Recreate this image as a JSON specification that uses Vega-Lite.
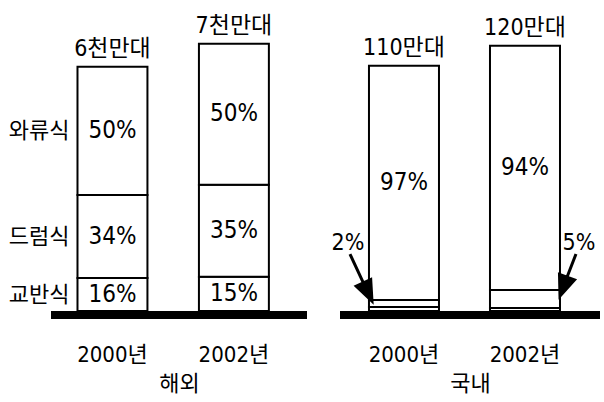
{
  "$schema": "https://vega.github.io/schema/vega-lite/v6.json",
  "padding": {"left": 8, "top": 14, "right": 0, "bottom": 0},
  "bounds": "flush",
  "spacing": 33,
  "background": "white",
  "config": {
    "font": "DejaVu Sans Condensed, Noto Sans CJK KR",
    "view": {"stroke": null},
    "text": {"color": "black"}
  },
  "datasets": {
    "seg": [
      {"region": "해외", "year": "2000년", "type": "교반식", "ord": 1, "pct": "16%", "h": 13.5, "total": "6천만대"},
      {"region": "해외", "year": "2000년", "type": "드럼식", "ord": 2, "pct": "34%", "h": 34.0, "total": "6천만대"},
      {"region": "해외", "year": "2000년", "type": "와류식", "ord": 3, "pct": "50%", "h": 52.5, "total": "6천만대"},
      {"region": "해외", "year": "2002년", "type": "교반식", "ord": 1, "pct": "15%", "h": 14.0, "total": "7천만대"},
      {"region": "해외", "year": "2002년", "type": "드럼식", "ord": 2, "pct": "35%", "h": 37.7, "total": "7천만대"},
      {"region": "해외", "year": "2002년", "type": "와류식", "ord": 3, "pct": "50%", "h": 57.8, "total": "7천만대"},
      {"region": "국내", "year": "2000년", "type": "교반식", "ord": 1, "pct": "1%", "h": 1.6, "total": "110만대"},
      {"region": "국내", "year": "2000년", "type": "드럼식", "ord": 2, "pct": "2%", "h": 2.9, "total": "110만대"},
      {"region": "국내", "year": "2000년", "type": "와류식", "ord": 3, "pct": "97%", "h": 95.9, "total": "110만대"},
      {"region": "국내", "year": "2002년", "type": "교반식", "ord": 1, "pct": "1%", "h": 1.2, "total": "120만대"},
      {"region": "국내", "year": "2002년", "type": "드럼식", "ord": 2, "pct": "5%", "h": 7.4, "total": "120만대"},
      {"region": "국내", "year": "2002년", "type": "와류식", "ord": 3, "pct": "94%", "h": 100.0, "total": "120만대"}
    ]
  },
  "hconcat": [
    {
      "width": 256,
      "height": 293,
      "layer": [
        {
          "data": {"name": "seg"},
          "transform": [{"filter": "datum.region == '해외'"}],
          "mark": {"type": "bar", "fill": "white", "stroke": "black", "strokeWidth": 2},
          "encoding": {
            "x": {"field": "year", "type": "nominal", "sort": ["2000년", "2002년"],
              "scale": {"paddingInner": 0.424, "paddingOuter": 0.266, "align": 0.41},
              "axis": {"title": "해외", "labelAngle": 0, "domain": false, "ticks": false, "labelPadding": 33, "titlePadding": 8, "labelFontSize": 22, "titleFontSize": 22, "titleFontWeight": "normal", "labelColor": "black", "titleColor": "black"}},
            "y": {"field": "h", "type": "quantitative", "stack": "zero", "scale": {"domain": [0, 120], "nice": false}, "axis": null},
            "order": {"field": "ord", "type": "quantitative"}
          }
        },
        {
          "data": {"name": "seg"},
          "transform": [
            {"filter": "datum.region == '해외'"},
            {"stack": "h", "groupby": ["year"], "sort": [{"field": "ord", "order": "ascending"}], "as": ["y0", "y1"]},
            {"fold": ["y0", "y1"], "as": ["edge", "pos"]}
          ],
          "mark": {"type": "text", "fontSize": 24, "baseline": "middle", "fill": "black"},
          "encoding": {
            "x": {"field": "year", "type": "nominal", "sort": ["2000년", "2002년"]},
            "y": {"aggregate": "mean", "field": "pos", "type": "quantitative", "axis": null},
            "text": {"field": "pct"},
            "detail": {"field": "type"}
          }
        },
        {
          "data": {"name": "seg"},
          "transform": [
            {"filter": "datum.region == '해외'"},
            {"stack": "h", "groupby": ["year"], "sort": [{"field": "ord", "order": "ascending"}], "as": ["y0", "y1"]},
            {"filter": "datum.year == '2000년'"},
            {"fold": ["y0", "y1"], "as": ["edge", "pos"]}
          ],
          "mark": {"type": "text", "fontSize": 22, "baseline": "middle", "align": "right", "dx": -43, "fill": "black"},
          "encoding": {
            "x": {"field": "year", "type": "nominal", "sort": ["2000년", "2002년"]},
            "y": {"aggregate": "mean", "field": "pos", "type": "quantitative", "axis": null},
            "text": {"field": "type"}
          }
        },
        {
          "data": {"name": "seg"},
          "transform": [{"filter": "datum.region == '해외'"}],
          "mark": {"type": "text", "fontSize": 23, "baseline": "alphabetic", "dy": -11, "fill": "black"},
          "encoding": {
            "x": {"field": "year", "type": "nominal", "sort": ["2000년", "2002년"]},
            "y": {"aggregate": "sum", "field": "h", "type": "quantitative", "axis": null},
            "text": {"field": "total"}
          }
        },
        {
          "data": {"values": [{}]},
          "mark": {"type": "rule", "strokeWidth": 8, "yOffset": 4, "color": "black"},
          "encoding": {"y": {"datum": 0, "type": "quantitative", "axis": null}}
        }
      ]
    },
    {
      "width": 260,
      "height": 293,
      "layer": [
        {
          "data": {"name": "seg"},
          "transform": [{"filter": "datum.region == '국내'"}],
          "mark": {"type": "bar", "fill": "white", "stroke": "black", "strokeWidth": 2},
          "encoding": {
            "x": {"field": "year", "type": "nominal", "sort": ["2000년", "2002년"],
              "scale": {"paddingInner": 0.4215, "paddingOuter": 0.285, "align": 0.42},
              "axis": {"title": "국내", "labelAngle": 0, "domain": false, "ticks": false, "labelPadding": 33, "titlePadding": 8, "labelFontSize": 22, "titleFontSize": 22, "titleFontWeight": "normal", "labelColor": "black", "titleColor": "black"}},
            "y": {"field": "h", "type": "quantitative", "stack": "zero", "scale": {"domain": [0, 120], "nice": false}, "axis": null},
            "order": {"field": "ord", "type": "quantitative"}
          }
        },
        {
          "data": {"name": "seg"},
          "transform": [
            {"filter": "datum.region == '국내'"},
            {"stack": "h", "groupby": ["year"], "sort": [{"field": "ord", "order": "ascending"}], "as": ["y0", "y1"]},
            {"filter": "datum.type == '와류식'"},
            {"fold": ["y0", "y1"], "as": ["edge", "pos"]}
          ],
          "mark": {"type": "text", "fontSize": 24, "baseline": "middle", "fill": "black"},
          "encoding": {
            "x": {"field": "year", "type": "nominal", "sort": ["2000년", "2002년"]},
            "y": {"aggregate": "mean", "field": "pos", "type": "quantitative", "axis": null},
            "text": {"field": "pct"}
          }
        },
        {
          "data": {"name": "seg"},
          "transform": [{"filter": "datum.region == '국내'"}],
          "mark": {"type": "text", "fontSize": 23, "baseline": "alphabetic", "dy": -11, "fill": "black"},
          "encoding": {
            "x": {"field": "year", "type": "nominal", "sort": ["2000년", "2002년"]},
            "y": {"aggregate": "sum", "field": "h", "type": "quantitative", "axis": null},
            "text": {"field": "total"}
          }
        },
        {
          "data": {"name": "seg"},
          "transform": [
            {"filter": "datum.region == '국내'"},
            {"stack": "h", "groupby": ["year"], "sort": [{"field": "ord", "order": "ascending"}], "as": ["y0", "y1"]},
            {"filter": "datum.type == '드럼식' && datum.year == '2000년'"}
          ],
          "layer": [
            {
              "mark": {"type": "point", "shape": "M-0.88,-1.88L-0.34,-0.72M0,0L-0.05,-0.86L-0.63,-0.59Z", "size": 2500, "filled": true, "color": "black", "stroke": "black", "strokeWidth": 3, "opacity": 1, "xOffset": -32, "yOffset": 1},
              "encoding": {
                "x": {"field": "year", "type": "nominal", "sort": ["2000년", "2002년"]},
                "y": {"field": "y1", "type": "quantitative", "axis": null}
              }
            },
            {
              "mark": {"type": "text", "fontSize": 23, "baseline": "middle", "dx": -56, "dy": -57, "fill": "black"},
              "encoding": {
                "x": {"field": "year", "type": "nominal", "sort": ["2000년", "2002년"]},
                "y": {"field": "y1", "type": "quantitative", "axis": null},
                "text": {"field": "pct"}
              }
            }
          ]
        },
        {
          "data": {"name": "seg"},
          "transform": [
            {"filter": "datum.region == '국내'"},
            {"stack": "h", "groupby": ["year"], "sort": [{"field": "ord", "order": "ascending"}], "as": ["y0", "y1"]},
            {"filter": "datum.type == '드럼식' && datum.year == '2002년'"}
          ],
          "layer": [
            {
              "mark": {"type": "point", "shape": "M0.64,-1.68L0.28,-0.75M0,0L0.58,-0.64L-0.02,-0.86Z", "size": 2500, "filled": true, "color": "black", "stroke": "black", "strokeWidth": 3, "opacity": 1, "xOffset": 35, "yOffset": 6},
              "encoding": {
                "x": {"field": "year", "type": "nominal", "sort": ["2000년", "2002년"]},
                "y": {"field": "y1", "type": "quantitative", "axis": null}
              }
            },
            {
              "mark": {"type": "text", "fontSize": 23, "baseline": "middle", "dx": 54, "dy": -47, "fill": "black"},
              "encoding": {
                "x": {"field": "year", "type": "nominal", "sort": ["2000년", "2002년"]},
                "y": {"field": "y1", "type": "quantitative", "axis": null},
                "text": {"field": "pct"}
              }
            }
          ]
        },
        {
          "data": {"values": [{}]},
          "mark": {"type": "rule", "strokeWidth": 8, "yOffset": 4, "color": "black"},
          "encoding": {"y": {"datum": 0, "type": "quantitative", "axis": null}}
        }
      ]
    }
  ]
}
